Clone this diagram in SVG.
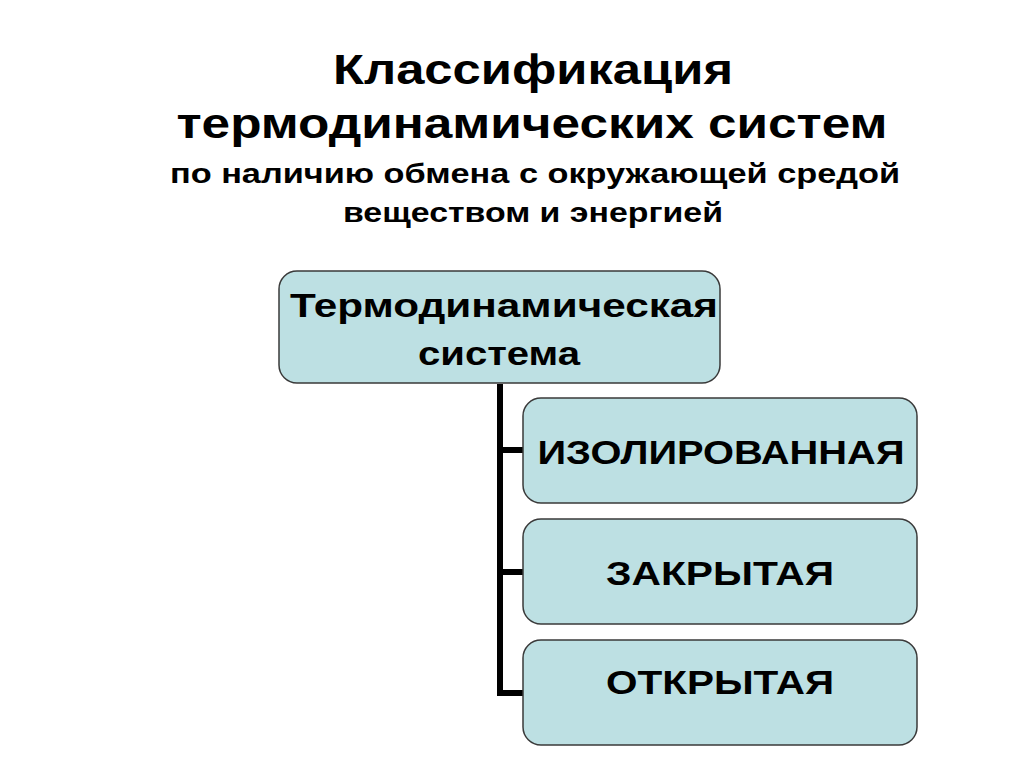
<svg xmlns="http://www.w3.org/2000/svg" width="1024" height="767" viewBox="0 0 1024 767">
<style>
.t{font-family:"Liberation Sans",Arial,sans-serif;font-weight:bold;fill:#000;text-anchor:middle}
.b{fill:#bde0e3;stroke:#3a3a3a;stroke-width:1.5}
.c{fill:none;stroke:#000;stroke-width:6}
</style>
<rect width="1024" height="767" fill="#fff"/>
<g id="title">
<text class="t" x="533" y="84" font-size="42" textLength="400" lengthAdjust="spacingAndGlyphs">Классификация</text>
<text class="t" x="532" y="138" font-size="42" textLength="711" lengthAdjust="spacingAndGlyphs">термодинамических систем</text>
<text class="t" x="535" y="183" font-size="28" textLength="730" lengthAdjust="spacingAndGlyphs">по наличию обмена с окружающей средой</text>
<text class="t" x="533" y="222" font-size="28" textLength="380" lengthAdjust="spacingAndGlyphs">веществом и энергией</text>
</g>
<g id="connectors">
<path class="c" d="M500 384 V693 M497 450 H524 M497 572 H524 M497 693 H524"/>
</g>
<g id="root"><rect class="b" x="279" y="271" width="441" height="112" rx="18"/>
<text class="t" x="504" y="317" font-size="34" textLength="428" lengthAdjust="spacingAndGlyphs">Термодинамическая</text>
<text class="t" x="499" y="365" font-size="34" textLength="162" lengthAdjust="spacingAndGlyphs">система</text></g>
<g id="n1"><rect class="b" x="523" y="398" width="394" height="105" rx="18"/>
<text class="t" x="721" y="464" font-size="34" textLength="367" lengthAdjust="spacingAndGlyphs">ИЗОЛИРОВАННАЯ</text></g>
<g id="n2"><rect class="b" x="523" y="519" width="394" height="105" rx="18"/>
<text class="t" x="720" y="585" font-size="34" textLength="228" lengthAdjust="spacingAndGlyphs">ЗАКРЫТАЯ</text></g>
<g id="n3"><rect class="b" x="523" y="640" width="394" height="105" rx="18"/>
<text class="t" x="720" y="694" font-size="34" textLength="228" lengthAdjust="spacingAndGlyphs">ОТКРЫТАЯ</text></g>
</svg>
